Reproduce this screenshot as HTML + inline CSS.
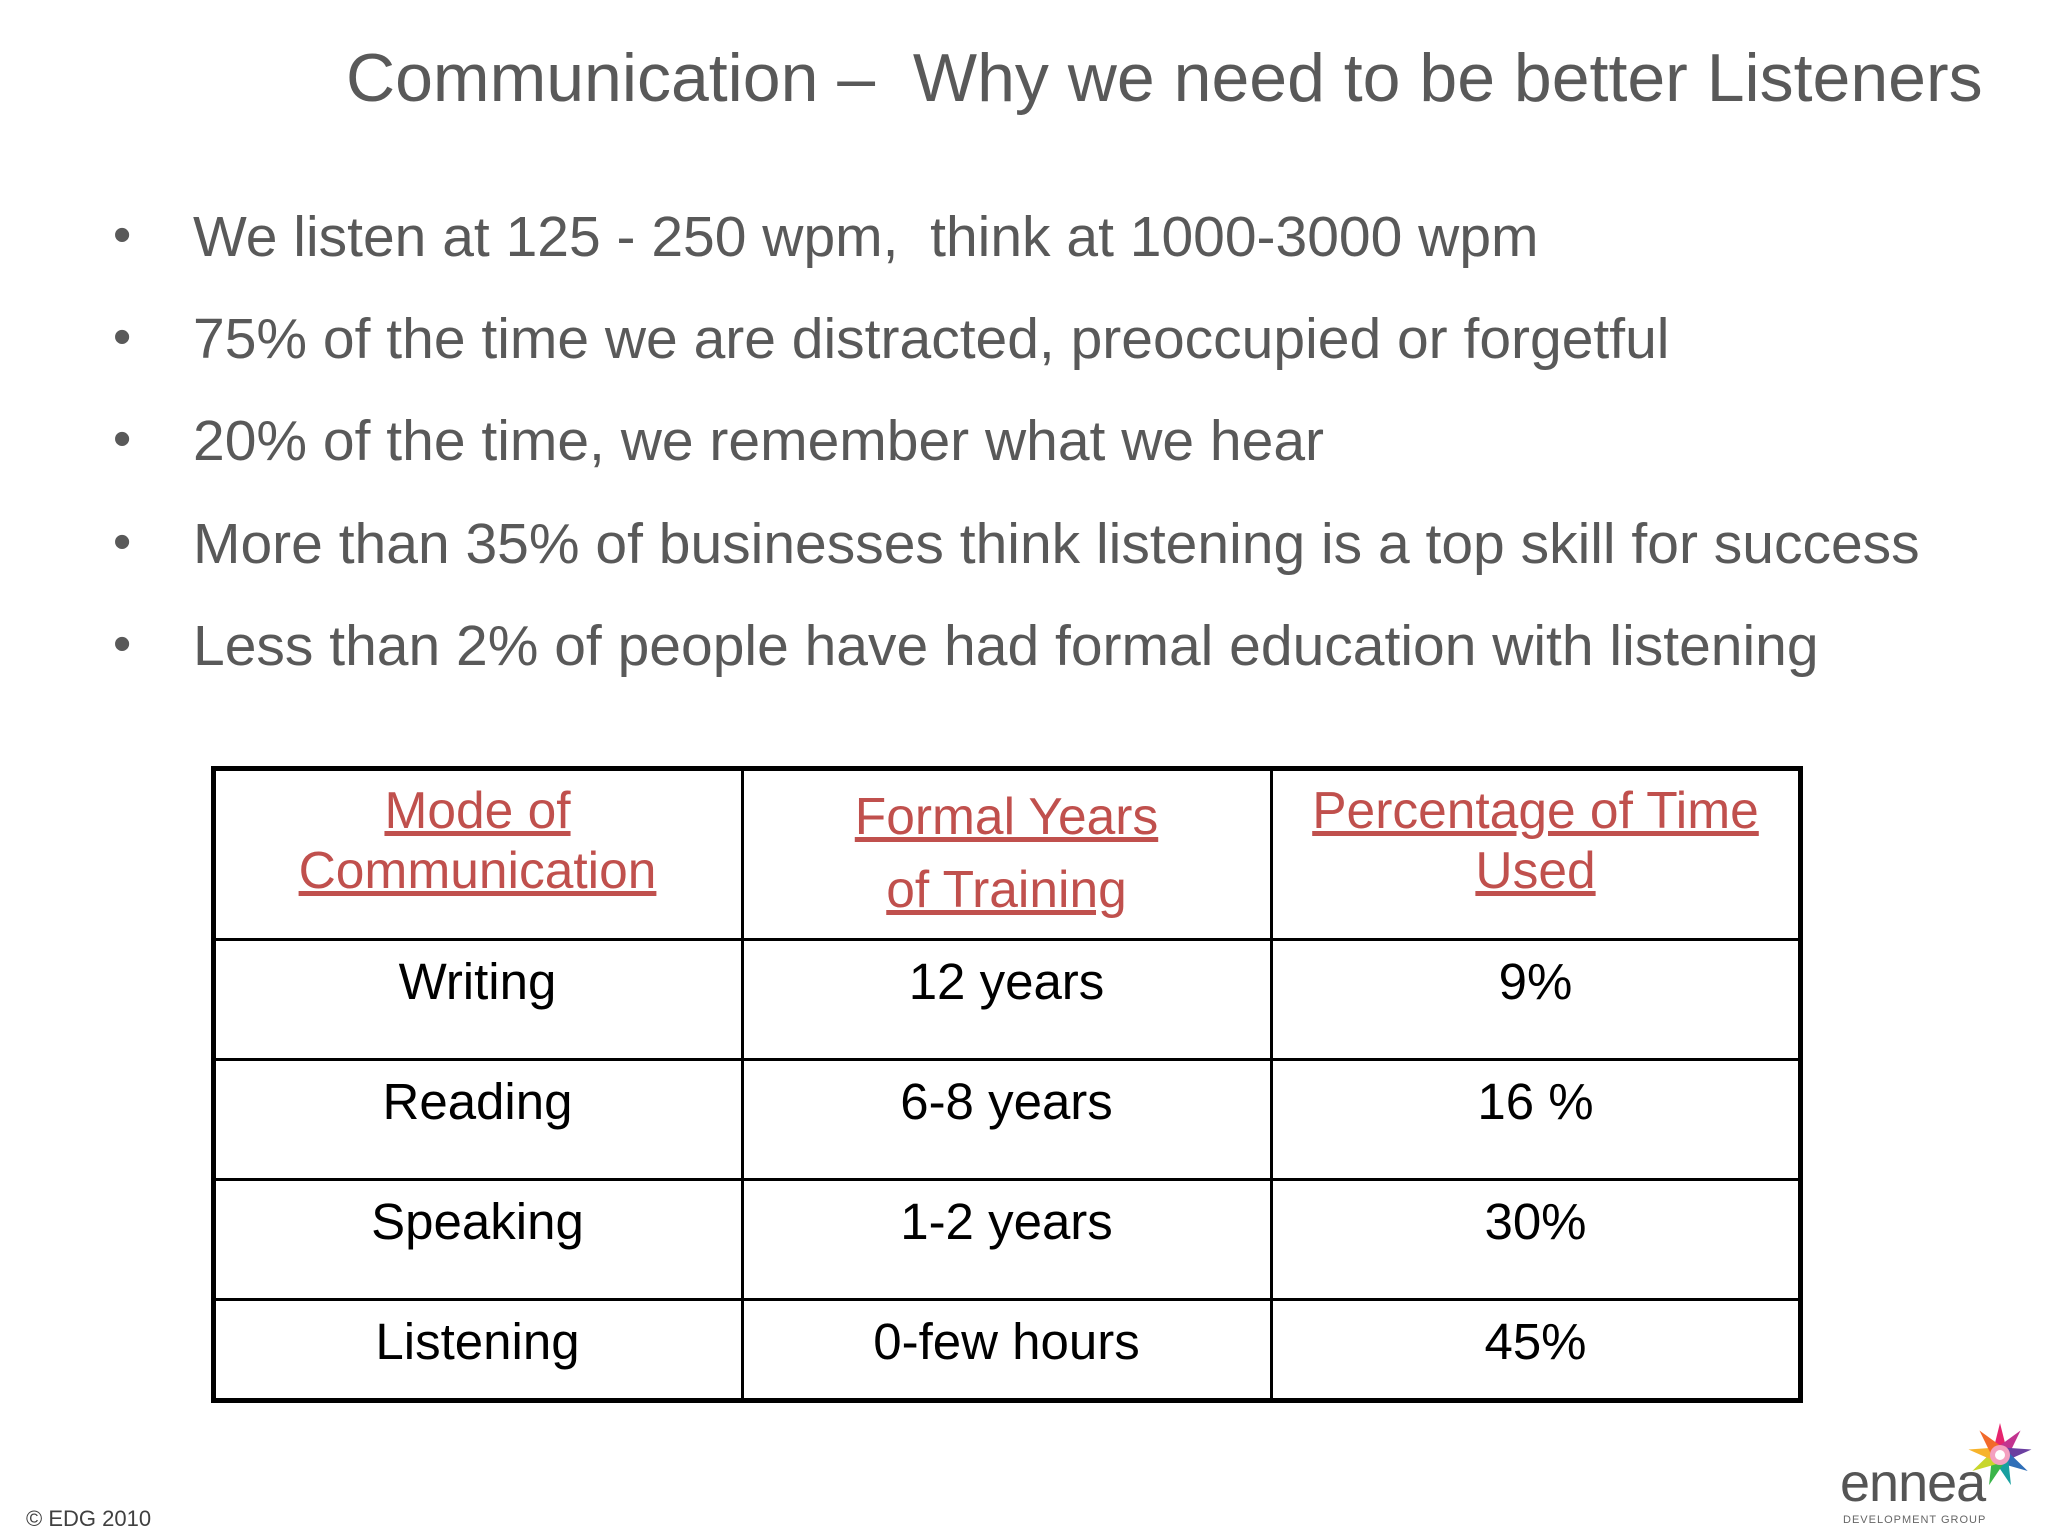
<!DOCTYPE html>
<html><head><meta charset="utf-8"><style>
body{margin:0;width:2048px;height:1536px;background:#fff;position:relative;overflow:hidden;font-family:"Liberation Sans",sans-serif}
.a{position:absolute;white-space:nowrap}
#title{left:346px;top:39px;font-size:68px;color:#595959}
.b{font-size:57px;color:#595959;left:193px}
.dot{font-size:52px;color:#595959;left:113px}
.hl{position:absolute;background:#000}
.c{position:absolute;text-align:center;width:529px;font-size:51px;color:#000;line-height:60px}
.h{position:absolute;text-align:center;width:529px;font-size:51.5px;color:#c0504d;text-decoration:underline;line-height:60px}
</style></head><body>
<div id="title" class="a">Communication –&nbsp; Why we need to be better Listeners</div>
<div class="a dot" style="top:205px">•</div>
<div class="a b" style="top:204px">We listen at 125 - 250 wpm,&nbsp; think at 1000-3000 wpm</div>
<div class="a dot" style="top:307px">•</div>
<div class="a b" style="top:306px">75% of the time we are distracted, preoccupied or forgetful</div>
<div class="a dot" style="top:409px">•</div>
<div class="a b" style="top:408px">20% of the time, we remember what we hear</div>
<div class="a dot" style="top:512px">•</div>
<div class="a b" style="top:511px">More than 35% of businesses think listening is a top skill for success</div>
<div class="a dot" style="top:614px">•</div>
<div class="a b" style="top:613px">Less than 2% of people have had formal education with listening</div>

<div class="a" style="left:211px;top:766px;width:1582px;height:627px;border:5px solid #000"></div>
<div class="hl" style="left:741px;top:768px;width:3px;height:633px"></div>
<div class="hl" style="left:1270px;top:768px;width:3px;height:633px"></div>
<div class="hl" style="left:213px;top:938px;width:1588px;height:3px"></div>
<div class="hl" style="left:213px;top:1058px;width:1588px;height:3px"></div>
<div class="hl" style="left:213px;top:1178px;width:1588px;height:3px"></div>
<div class="hl" style="left:213px;top:1298px;width:1588px;height:3px"></div>

<div class="h" style="left:213px;top:780px">Mode of<br>Communication</div>
<div class="h" style="left:742px;top:780px;line-height:73px">Formal Years<br>of Training</div>
<div class="h" style="left:1271px;top:780px">Percentage of Time<br>Used</div>

<div class="c" style="left:213px;top:952px">Writing</div>
<div class="c" style="left:742px;top:952px">12 years</div>
<div class="c" style="left:1271px;top:952px">9%</div>
<div class="c" style="left:213px;top:1072px">Reading</div>
<div class="c" style="left:742px;top:1072px">6-8 years</div>
<div class="c" style="left:1271px;top:1072px">16 %</div>
<div class="c" style="left:213px;top:1192px">Speaking</div>
<div class="c" style="left:742px;top:1192px">1-2 years</div>
<div class="c" style="left:1271px;top:1192px">30%</div>
<div class="c" style="left:213px;top:1312px">Listening</div>
<div class="c" style="left:742px;top:1312px">0-few hours</div>
<div class="c" style="left:1271px;top:1312px">45%</div>

<div class="a" style="left:26px;top:1506px;font-size:22px;color:#404040">© EDG 2010</div>
<div class="a" style="left:1840px;top:1452px;font-size:54px;color:#555;letter-spacing:-1px">ennea</div>
<div class="a" style="left:1843px;top:1514px;font-size:11px;color:#666;letter-spacing:1px">DEVELOPMENT GROUP</div>
<svg class="a" style="left:1960px;top:1420px" width="80" height="70" viewBox="-40 -35 80 70">
<g>
<polygon points="0,-32 6,-8 -6,-8" fill="#e6246e" transform="rotate(0)"/>
<polygon points="0,-32 6,-8 -6,-8" fill="#c2338f" transform="rotate(40)"/>
<polygon points="0,-32 6,-8 -6,-8" fill="#6b3fa0" transform="rotate(80)"/>
<polygon points="0,-32 6,-8 -6,-8" fill="#2f6fb8" transform="rotate(120)"/>
<polygon points="0,-32 6,-8 -6,-8" fill="#18a0a0" transform="rotate(160)"/>
<polygon points="0,-32 6,-8 -6,-8" fill="#3bb54a" transform="rotate(200)"/>
<polygon points="0,-32 6,-8 -6,-8" fill="#c8d62b" transform="rotate(240)"/>
<polygon points="0,-32 6,-8 -6,-8" fill="#f7b32b" transform="rotate(280)"/>
<polygon points="0,-32 6,-8 -6,-8" fill="#f26a2b" transform="rotate(320)"/>
<circle r="10" fill="#f4a0c0"/><circle r="5" fill="#fff"/>
</g></svg>
</body></html>
